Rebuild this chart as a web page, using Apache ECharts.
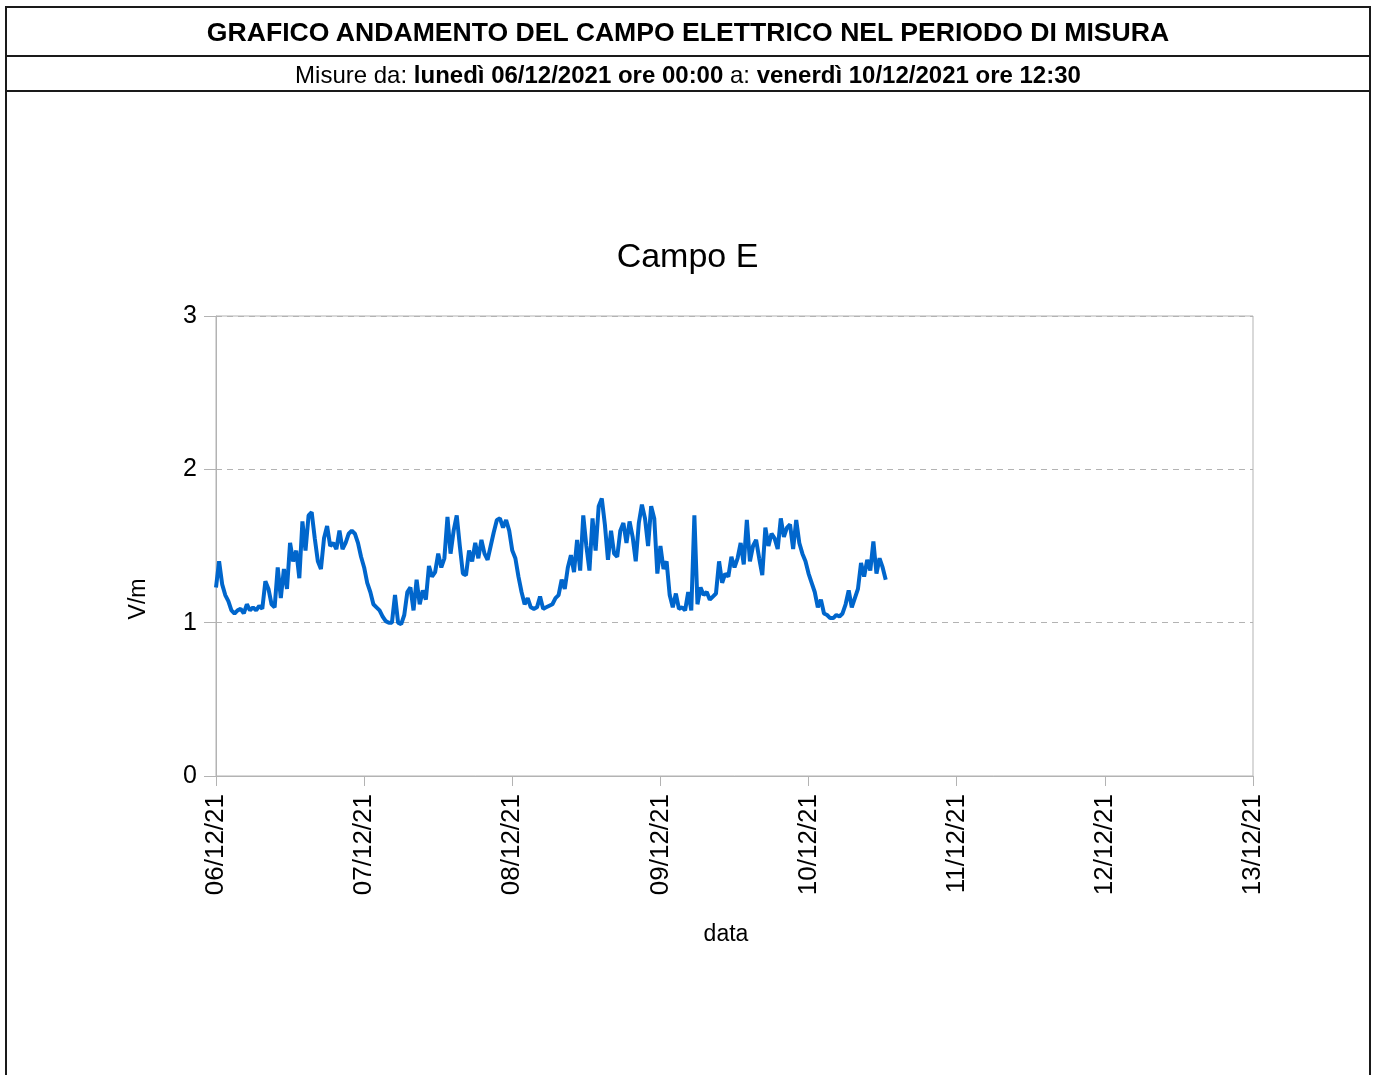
<!DOCTYPE html>
<html>
<head>
<meta charset="utf-8">
<title>Campo E</title>
<script src="https://cdn.jsdelivr.net/npm/echarts@6/dist/echarts.min.js"></script>
<style>
html, body { margin: 0; padding: 0; background: #fff; }
#chart { position: absolute; left: 0; top: 0; width: 1375px; height: 1075px; }
.frame { position: absolute; left: 5px; top: 6px; width: 1362px; height: 1100px;
         border: 2px solid #1a1a1a; border-bottom: none; pointer-events: none; }
.head { position: absolute; left: 0; width: 100%; text-align: center; color: #000;
        font-family: "Liberation Sans", Arial, sans-serif; border-bottom: 2px solid #1a1a1a; }
#t1 { top: 0; height: 47px; line-height: 48px; font-size: 26.6px; font-weight: bold; }
#t2 { top: 49px; height: 33px; line-height: 36px; font-size: 24px; }
</style>
</head>
<body>
<div id="chart"></div>
<div class="frame">
    <div class="head" id="t1">GRAFICO ANDAMENTO DEL CAMPO ELETTRICO NEL PERIODO DI MISURA</div>
    <div class="head" id="t2">Misure da: <b>lunedì 06/12/2021 ore 00:00</b> a: <b>venerdì 10/12/2021 ore 12:30</b></div>
</div>
<script>
// start of measurements, one value every 30 minutes (hours from start on x)
var startDate = new Date(2021, 11, 6, 0, 0);
var stepHours = 0.5;
var yTicks = [0, 1, 2, 3];
var dayCount = 7;

// campo E, V/m
var campoE = [
    1.23, 1.40, 1.25, 1.18, 1.14, 1.08, 1.06, 1.08, 1.09, 1.06, 1.12, 1.08,
    1.10, 1.08, 1.11, 1.09, 1.27, 1.22, 1.12, 1.10, 1.36, 1.16, 1.35, 1.22,
    1.52, 1.40, 1.47, 1.29, 1.66, 1.47, 1.70, 1.72, 1.55, 1.40, 1.35, 1.55,
    1.63, 1.50, 1.52, 1.48, 1.60, 1.48, 1.52, 1.58, 1.60, 1.58, 1.52, 1.43,
    1.36, 1.26, 1.20, 1.12, 1.10, 1.08, 1.04, 1.01, 1.00, 1.00, 1.18, 1.00,
    0.99, 1.05, 1.20, 1.23, 1.08, 1.28, 1.12, 1.21, 1.15, 1.37, 1.30, 1.33,
    1.45, 1.36, 1.42, 1.69, 1.45, 1.60, 1.70, 1.50, 1.32, 1.31, 1.47, 1.40,
    1.52, 1.42, 1.54, 1.45, 1.41, 1.50, 1.59, 1.67, 1.68, 1.62, 1.67, 1.60,
    1.47, 1.42, 1.30, 1.20, 1.12, 1.16, 1.10, 1.09, 1.10, 1.17, 1.09, 1.10,
    1.11, 1.12, 1.16, 1.18, 1.28, 1.22, 1.36, 1.44, 1.33, 1.54, 1.34, 1.70,
    1.50, 1.34, 1.68, 1.47, 1.76, 1.81, 1.64, 1.41, 1.60, 1.45, 1.43, 1.60,
    1.65, 1.52, 1.66, 1.56, 1.40, 1.65, 1.77, 1.68, 1.50, 1.76, 1.68, 1.32,
    1.50, 1.35, 1.40, 1.18, 1.10, 1.19, 1.09, 1.10, 1.08, 1.20, 1.08, 1.70,
    1.12, 1.23, 1.18, 1.20, 1.15, 1.17, 1.19, 1.40, 1.26, 1.32, 1.30, 1.43,
    1.36, 1.42, 1.52, 1.38, 1.67, 1.40, 1.50, 1.54, 1.42, 1.31, 1.62, 1.50,
    1.58, 1.55, 1.48, 1.68, 1.56, 1.62, 1.64, 1.48, 1.67, 1.52, 1.45, 1.40,
    1.32, 1.26, 1.20, 1.10, 1.15, 1.06, 1.05, 1.03, 1.03, 1.05, 1.04, 1.06,
    1.12, 1.21, 1.10, 1.16, 1.22, 1.39, 1.30, 1.41, 1.34, 1.53, 1.32, 1.42,
    1.36, 1.28
];

var seriesData = campoE.map(function (v, i) {
    return [i * stepHours, v];
});

function pad(n) {
    return (n < 10 ? '0' : '') + n;
}

function dayLabel(hours) {
    var d = new Date(startDate.getTime() + hours * 3600000);
    return pad(d.getDate()) + '/' + pad(d.getMonth() + 1) + '/' + pad(d.getFullYear() % 100);
}

var myChart = echarts.init(document.getElementById('chart'));
var font = '"Liberation Sans", Arial, sans-serif';
var option = {
    animation: false,
    title: {
        text: 'Campo E',
        left: 'center',
        top: 236,
        textStyle: { fontFamily: font, fontSize: 34, fontWeight: 'normal', color: '#000' }
    },
    // axis names sit off-centre in the original
    graphic: [
        {
            type: 'text',
            x: 139,
            y: 599,
            rotation: Math.PI / 2,
            style: { text: 'V/m', font: '23px ' + font, fill: '#000', align: 'center', verticalAlign: 'middle' }
        },
        {
            type: 'text',
            x: 726,
            y: 935,
            style: { text: 'data', font: '23px ' + font, fill: '#000', align: 'center', verticalAlign: 'middle' }
        }
    ],
    grid: {
        left: 216,
        right: 122,
        top: 316,
        bottom: 299,
        show: true,
        borderColor: '#b3b3b3',
        borderWidth: 1
    },
    xAxis: {
        type: 'value',
        min: 0,
        max: dayCount * 24,
        interval: 24,
        axisLine: { lineStyle: { color: '#b3b3b3' } },
        axisTick: { show: true, length: 10, lineStyle: { color: '#b3b3b3' } },
        splitLine: { show: false },
        axisLabel: {
            rotate: 90,
            margin: 18,
            fontFamily: font,
            fontSize: 26,
            color: '#000',
            formatter: dayLabel
        }
    },
    yAxis: {
        type: 'value',
        min: yTicks[0],
        max: yTicks[yTicks.length - 1],
        interval: 1,
        axisLine: { show: true, lineStyle: { color: '#b3b3b3' } },
        axisTick: { show: true, length: 12, lineStyle: { color: '#b3b3b3' } },
        splitLine: { show: true, lineStyle: { color: '#b3b3b3', type: [6, 5] } },
        axisLabel: { margin: 19, fontFamily: font, fontSize: 25, color: '#000' }
    },
    series: [{
        name: 'Campo E',
        type: 'line',
        data: seriesData,
        showSymbol: false,
        symbol: 'none',
        lineStyle: { color: '#0066cc', width: 4 },
        itemStyle: { color: '#0066cc' }
    }]
};
myChart.setOption(option);
</script>
</body>
</html>
